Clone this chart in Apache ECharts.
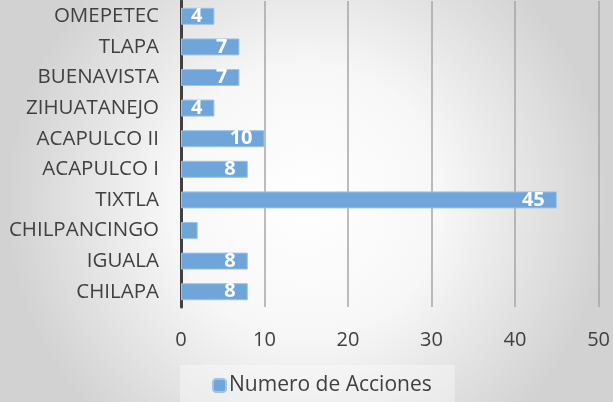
<!DOCTYPE html>
<html>
<head>
<meta charset="utf-8">
<script src="https://cdn.jsdelivr.net/npm/echarts@6/dist/echarts.min.js"></script>
<style>
  html, body { margin: 0; padding: 0; }
  #chart { width: 613px; height: 402px; }
</style>
</head>
<body>
<div id="chart"></div>
<script>
// datos, de abajo hacia arriba
var categorias = ["CHILAPA", "IGUALA", "CHILPANCINGO", "TIXTLA", "ACAPULCO I",
  "ACAPULCO II", "ZIHUATANEJO", "BUENAVISTA", "TLAPA", "OMEPETEC"];
var acciones = [8, 8, 2, 45, 8, 10, 4, 7, 7, 4];
var sinEtiqueta = ["CHILPANCINGO"];
var xTicks = [0, 10, 20, 30, 40, 50];

var chart = echarts.init(document.getElementById("chart"));

var option = {
  backgroundColor: {
    type: "radial", x: 0.5, y: 0.5, r: 0.75,
    colorStops: [
      { offset: 0, color: "#ffffff" },
      { offset: 0.45, color: "#f7f7f7" },
      { offset: 1, color: "#d2d2d2" }
    ]
  },
  textStyle: { fontFamily: "Open Sans" },
  grid: { left: 181, right: 11, top: 1, height: 306 },
  legend: {
    bottom: 0,
    left: 180,
    itemWidth: 13,
    itemHeight: 13,
    itemGap: 4,
    padding: [10, 23, 6, 32],
    backgroundColor: "rgba(255,255,255,0.35)",
    textStyle: { fontSize: 21, color: "#404040", padding: [0, 0, 0, -2] },
    data: ["Numero de Acciones"]
  },
  xAxis: {
    type: "value",
    min: xTicks[0],
    max: xTicks[xTicks.length - 1],
    interval: 10,
    axisLine: { show: false },
    axisTick: { show: false },
    splitLine: { lineStyle: { color: "#a6a6a6", width: 1.5 } },
    axisLabel: { fontSize: 20, color: "#404040", margin: 23 }
  },
  yAxis: {
    type: "category",
    data: categorias,
    axisLine: { show: true, lineStyle: { color: "#404040", width: 3 } },
    axisTick: { show: false },
    axisLabel: { fontSize: 20.5, color: "#404040", margin: 22 }
  },
  series: [{
    name: "Numero de Acciones",
    type: "bar",
    barWidth: 17,
    itemStyle: { color: "#6fa5d9", borderColor: "#9cc3e8", borderWidth: 1 },
    label: {
      show: true,
      position: "insideRight",
      distance: 12,
      color: "#ffffff",
      fontWeight: "bold",
      fontSize: 20,
      textBorderWidth: 0
    },
    data: acciones.map(function (v, i) {
      if (sinEtiqueta.indexOf(categorias[i]) >= 0) {
        return { value: v, label: { show: false } };
      }
      return v;
    })
  }]
};

chart.setOption(option);
</script>
</body>
</html>
